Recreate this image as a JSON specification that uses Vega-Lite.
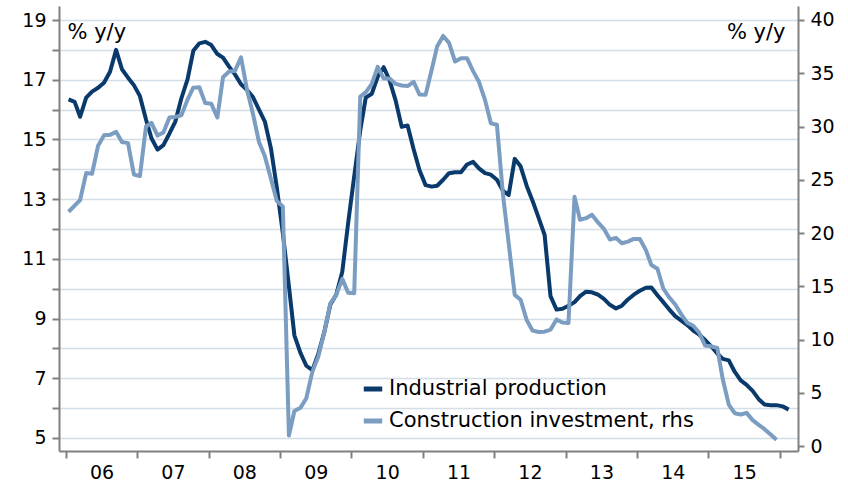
{
  "$schema": "https://vega.github.io/schema/vega-lite/v6.json",
  "width": 739,
  "height": 445,
  "autosize": "none",
  "padding": {"left": 59, "top": 6, "right": 50, "bottom": 32},
  "background": "white",
  "config": {
    "view": {"stroke": null},
    "font": "DejaVu Sans",
    "axis": {
      "domainColor": "#808080", "domainWidth": 2,
      "tickColor": "#808080", "tickWidth": 2,
      "labelColor": "#000000", "labelFontSize": 19,
      "titleColor": "#000000", "titleFontWeight": "normal", "titleFontSize": 21,
      "gridColor": "#d3dee6", "gridWidth": 1.5
    }
  },
  "data": {"values": [
      {"s":"Industrial production","d":"2006-01-15","v":16.34},{"s":"Industrial production","d":"2006-02-15","v":16.26},{"s":"Industrial production","d":"2006-03-15","v":15.76},{"s":"Industrial production","d":"2006-04-15","v":16.4},{"s":"Industrial production","d":"2006-05-15","v":16.6},{"s":"Industrial production","d":"2006-06-15","v":16.73},{"s":"Industrial production","d":"2006-07-15","v":16.9},{"s":"Industrial production","d":"2006-08-15","v":17.27},{"s":"Industrial production","d":"2006-09-15","v":18.0},{"s":"Industrial production","d":"2006-10-15","v":17.35},{"s":"Industrial production","d":"2006-11-15","v":17.07},{"s":"Industrial production","d":"2006-12-15","v":16.82},
      {"s":"Industrial production","d":"2007-01-15","v":16.45},{"s":"Industrial production","d":"2007-02-15","v":15.67},{"s":"Industrial production","d":"2007-03-15","v":15.04},{"s":"Industrial production","d":"2007-04-15","v":14.66},{"s":"Industrial production","d":"2007-05-15","v":14.81},{"s":"Industrial production","d":"2007-06-15","v":15.2},{"s":"Industrial production","d":"2007-07-15","v":15.6},{"s":"Industrial production","d":"2007-08-15","v":16.38},{"s":"Industrial production","d":"2007-09-15","v":17.0},{"s":"Industrial production","d":"2007-10-15","v":17.97},{"s":"Industrial production","d":"2007-11-15","v":18.22},{"s":"Industrial production","d":"2007-12-15","v":18.27},
      {"s":"Industrial production","d":"2008-01-15","v":18.16},{"s":"Industrial production","d":"2008-02-15","v":17.86},{"s":"Industrial production","d":"2008-03-15","v":17.74},{"s":"Industrial production","d":"2008-04-15","v":17.44},{"s":"Industrial production","d":"2008-05-15","v":17.18},{"s":"Industrial production","d":"2008-06-15","v":16.85},{"s":"Industrial production","d":"2008-07-15","v":16.66},{"s":"Industrial production","d":"2008-08-15","v":16.42},{"s":"Industrial production","d":"2008-09-15","v":16.0},{"s":"Industrial production","d":"2008-10-15","v":15.6},{"s":"Industrial production","d":"2008-11-15","v":14.7},{"s":"Industrial production","d":"2008-12-15","v":13.4},
      {"s":"Industrial production","d":"2009-01-15","v":11.86},{"s":"Industrial production","d":"2009-02-15","v":10.08},{"s":"Industrial production","d":"2009-03-15","v":8.44},{"s":"Industrial production","d":"2009-04-15","v":7.85},{"s":"Industrial production","d":"2009-05-15","v":7.42},{"s":"Industrial production","d":"2009-06-15","v":7.27},{"s":"Industrial production","d":"2009-07-15","v":7.81},{"s":"Industrial production","d":"2009-08-15","v":8.55},{"s":"Industrial production","d":"2009-09-15","v":9.47},{"s":"Industrial production","d":"2009-10-15","v":9.8},{"s":"Industrial production","d":"2009-11-15","v":10.57},{"s":"Industrial production","d":"2009-12-15","v":12.2},
      {"s":"Industrial production","d":"2010-01-15","v":13.77},{"s":"Industrial production","d":"2010-02-15","v":15.3},{"s":"Industrial production","d":"2010-03-15","v":16.4},{"s":"Industrial production","d":"2010-04-15","v":16.53},{"s":"Industrial production","d":"2010-05-15","v":17.1},{"s":"Industrial production","d":"2010-06-15","v":17.42},{"s":"Industrial production","d":"2010-07-15","v":16.98},{"s":"Industrial production","d":"2010-08-15","v":16.3},{"s":"Industrial production","d":"2010-09-15","v":15.42},{"s":"Industrial production","d":"2010-10-15","v":15.47},{"s":"Industrial production","d":"2010-11-15","v":14.67},{"s":"Industrial production","d":"2010-12-15","v":13.97},
      {"s":"Industrial production","d":"2011-01-15","v":13.47},{"s":"Industrial production","d":"2011-02-15","v":13.42},{"s":"Industrial production","d":"2011-03-15","v":13.45},{"s":"Industrial production","d":"2011-04-15","v":13.65},{"s":"Industrial production","d":"2011-05-15","v":13.87},{"s":"Industrial production","d":"2011-06-15","v":13.9},{"s":"Industrial production","d":"2011-07-15","v":13.9},{"s":"Industrial production","d":"2011-08-15","v":14.16},{"s":"Industrial production","d":"2011-09-15","v":14.25},{"s":"Industrial production","d":"2011-10-15","v":14.03},{"s":"Industrial production","d":"2011-11-15","v":13.87},{"s":"Industrial production","d":"2011-12-15","v":13.82},
      {"s":"Industrial production","d":"2012-01-15","v":13.65},{"s":"Industrial production","d":"2012-02-15","v":13.28},{"s":"Industrial production","d":"2012-03-15","v":13.14},{"s":"Industrial production","d":"2012-04-15","v":14.35},{"s":"Industrial production","d":"2012-05-15","v":14.1},{"s":"Industrial production","d":"2012-06-15","v":13.45},{"s":"Industrial production","d":"2012-07-15","v":12.95},{"s":"Industrial production","d":"2012-08-15","v":12.38},{"s":"Industrial production","d":"2012-09-15","v":11.8},{"s":"Industrial production","d":"2012-10-15","v":9.75},{"s":"Industrial production","d":"2012-11-15","v":9.3},{"s":"Industrial production","d":"2012-12-15","v":9.33},
      {"s":"Industrial production","d":"2013-01-15","v":9.43},{"s":"Industrial production","d":"2013-02-15","v":9.55},{"s":"Industrial production","d":"2013-03-15","v":9.75},{"s":"Industrial production","d":"2013-04-15","v":9.9},{"s":"Industrial production","d":"2013-05-15","v":9.88},{"s":"Industrial production","d":"2013-06-15","v":9.8},{"s":"Industrial production","d":"2013-07-15","v":9.66},{"s":"Industrial production","d":"2013-08-15","v":9.46},{"s":"Industrial production","d":"2013-09-15","v":9.34},{"s":"Industrial production","d":"2013-10-15","v":9.43},{"s":"Industrial production","d":"2013-11-15","v":9.64},{"s":"Industrial production","d":"2013-12-15","v":9.8},
      {"s":"Industrial production","d":"2014-01-15","v":9.93},{"s":"Industrial production","d":"2014-02-15","v":10.03},{"s":"Industrial production","d":"2014-03-15","v":10.04},{"s":"Industrial production","d":"2014-04-15","v":9.78},{"s":"Industrial production","d":"2014-05-15","v":9.55},{"s":"Industrial production","d":"2014-06-15","v":9.3},{"s":"Industrial production","d":"2014-07-15","v":9.08},{"s":"Industrial production","d":"2014-08-15","v":8.93},{"s":"Industrial production","d":"2014-09-15","v":8.78},{"s":"Industrial production","d":"2014-10-15","v":8.6},{"s":"Industrial production","d":"2014-11-15","v":8.46},{"s":"Industrial production","d":"2014-12-15","v":8.28},
      {"s":"Industrial production","d":"2015-01-15","v":8.07},{"s":"Industrial production","d":"2015-02-15","v":7.83},{"s":"Industrial production","d":"2015-03-15","v":7.65},{"s":"Industrial production","d":"2015-04-15","v":7.6},{"s":"Industrial production","d":"2015-05-15","v":7.22},{"s":"Industrial production","d":"2015-06-15","v":6.93},{"s":"Industrial production","d":"2015-07-15","v":6.78},{"s":"Industrial production","d":"2015-08-15","v":6.58},{"s":"Industrial production","d":"2015-09-15","v":6.3},{"s":"Industrial production","d":"2015-10-15","v":6.12},{"s":"Industrial production","d":"2015-11-15","v":6.1},{"s":"Industrial production","d":"2015-12-15","v":6.1},
      {"s":"Industrial production","d":"2016-01-15","v":6.06},{"s":"Industrial production","d":"2016-02-15","v":5.95},
      {"s":"Construction investment, rhs","d":"2006-01-15","v":22.0},{"s":"Construction investment, rhs","d":"2006-02-15","v":22.57},{"s":"Construction investment, rhs","d":"2006-03-15","v":23.1},{"s":"Construction investment, rhs","d":"2006-04-15","v":25.63},{"s":"Construction investment, rhs","d":"2006-05-15","v":25.57},{"s":"Construction investment, rhs","d":"2006-06-15","v":28.2},{"s":"Construction investment, rhs","d":"2006-07-15","v":29.17},{"s":"Construction investment, rhs","d":"2006-08-15","v":29.22},{"s":"Construction investment, rhs","d":"2006-09-15","v":29.5},{"s":"Construction investment, rhs","d":"2006-10-15","v":28.55},{"s":"Construction investment, rhs","d":"2006-11-15","v":28.44},{"s":"Construction investment, rhs","d":"2006-12-15","v":25.5},
      {"s":"Construction investment, rhs","d":"2007-01-15","v":25.35},{"s":"Construction investment, rhs","d":"2007-02-15","v":30.0},{"s":"Construction investment, rhs","d":"2007-03-15","v":30.35},{"s":"Construction investment, rhs","d":"2007-04-15","v":29.15},{"s":"Construction investment, rhs","d":"2007-05-15","v":29.45},{"s":"Construction investment, rhs","d":"2007-06-15","v":30.85},{"s":"Construction investment, rhs","d":"2007-07-15","v":30.9},{"s":"Construction investment, rhs","d":"2007-08-15","v":31.05},{"s":"Construction investment, rhs","d":"2007-09-15","v":32.5},{"s":"Construction investment, rhs","d":"2007-10-15","v":33.65},{"s":"Construction investment, rhs","d":"2007-11-15","v":33.69},{"s":"Construction investment, rhs","d":"2007-12-15","v":32.2},
      {"s":"Construction investment, rhs","d":"2008-01-15","v":32.13},{"s":"Construction investment, rhs","d":"2008-02-15","v":30.85},{"s":"Construction investment, rhs","d":"2008-03-15","v":34.62},{"s":"Construction investment, rhs","d":"2008-04-15","v":35.16},{"s":"Construction investment, rhs","d":"2008-05-15","v":35.22},{"s":"Construction investment, rhs","d":"2008-06-15","v":36.5},{"s":"Construction investment, rhs","d":"2008-07-15","v":33.5},{"s":"Construction investment, rhs","d":"2008-08-15","v":31.2},{"s":"Construction investment, rhs","d":"2008-09-15","v":28.55},{"s":"Construction investment, rhs","d":"2008-10-15","v":27.2},{"s":"Construction investment, rhs","d":"2008-11-15","v":25.1},{"s":"Construction investment, rhs","d":"2008-12-15","v":23.0},
      {"s":"Construction investment, rhs","d":"2009-01-15","v":22.5},{"s":"Construction investment, rhs","d":"2009-02-15","v":1.0},{"s":"Construction investment, rhs","d":"2009-03-15","v":3.3},{"s":"Construction investment, rhs","d":"2009-04-15","v":3.6},{"s":"Construction investment, rhs","d":"2009-05-15","v":4.5},{"s":"Construction investment, rhs","d":"2009-06-15","v":7.0},{"s":"Construction investment, rhs","d":"2009-07-15","v":8.4},{"s":"Construction investment, rhs","d":"2009-08-15","v":10.7},{"s":"Construction investment, rhs","d":"2009-09-15","v":13.4},{"s":"Construction investment, rhs","d":"2009-10-15","v":14.2},{"s":"Construction investment, rhs","d":"2009-11-15","v":15.7},{"s":"Construction investment, rhs","d":"2009-12-15","v":14.4},
      {"s":"Construction investment, rhs","d":"2010-01-15","v":14.35},{"s":"Construction investment, rhs","d":"2010-02-15","v":32.8},{"s":"Construction investment, rhs","d":"2010-03-15","v":33.2},{"s":"Construction investment, rhs","d":"2010-04-15","v":34.0},{"s":"Construction investment, rhs","d":"2010-05-15","v":35.6},{"s":"Construction investment, rhs","d":"2010-06-15","v":34.5},{"s":"Construction investment, rhs","d":"2010-07-15","v":34.5},{"s":"Construction investment, rhs","d":"2010-08-15","v":34.0},{"s":"Construction investment, rhs","d":"2010-09-15","v":33.85},{"s":"Construction investment, rhs","d":"2010-10-15","v":33.8},{"s":"Construction investment, rhs","d":"2010-11-15","v":34.2},{"s":"Construction investment, rhs","d":"2010-12-15","v":33.0},
      {"s":"Construction investment, rhs","d":"2011-01-15","v":32.97},{"s":"Construction investment, rhs","d":"2011-02-15","v":35.3},{"s":"Construction investment, rhs","d":"2011-03-15","v":37.5},{"s":"Construction investment, rhs","d":"2011-04-15","v":38.5},{"s":"Construction investment, rhs","d":"2011-05-15","v":37.85},{"s":"Construction investment, rhs","d":"2011-06-15","v":36.1},{"s":"Construction investment, rhs","d":"2011-07-15","v":36.4},{"s":"Construction investment, rhs","d":"2011-08-15","v":36.41},{"s":"Construction investment, rhs","d":"2011-09-15","v":35.2},{"s":"Construction investment, rhs","d":"2011-10-15","v":34.2},{"s":"Construction investment, rhs","d":"2011-11-15","v":32.5},{"s":"Construction investment, rhs","d":"2011-12-15","v":30.3},
      {"s":"Construction investment, rhs","d":"2012-01-15","v":30.16},{"s":"Construction investment, rhs","d":"2012-02-15","v":23.6},{"s":"Construction investment, rhs","d":"2012-03-15","v":19.07},{"s":"Construction investment, rhs","d":"2012-04-15","v":14.2},{"s":"Construction investment, rhs","d":"2012-05-15","v":13.75},{"s":"Construction investment, rhs","d":"2012-06-15","v":11.85},{"s":"Construction investment, rhs","d":"2012-07-15","v":10.85},{"s":"Construction investment, rhs","d":"2012-08-15","v":10.72},{"s":"Construction investment, rhs","d":"2012-09-15","v":10.75},{"s":"Construction investment, rhs","d":"2012-10-15","v":10.94},{"s":"Construction investment, rhs","d":"2012-11-15","v":11.9},{"s":"Construction investment, rhs","d":"2012-12-15","v":11.6},
      {"s":"Construction investment, rhs","d":"2013-01-15","v":11.57},{"s":"Construction investment, rhs","d":"2013-02-15","v":23.4},{"s":"Construction investment, rhs","d":"2013-03-15","v":21.25},{"s":"Construction investment, rhs","d":"2013-04-15","v":21.4},{"s":"Construction investment, rhs","d":"2013-05-15","v":21.72},{"s":"Construction investment, rhs","d":"2013-06-15","v":21.0},{"s":"Construction investment, rhs","d":"2013-07-15","v":20.4},{"s":"Construction investment, rhs","d":"2013-08-15","v":19.4},{"s":"Construction investment, rhs","d":"2013-09-15","v":19.55},{"s":"Construction investment, rhs","d":"2013-10-15","v":19.05},{"s":"Construction investment, rhs","d":"2013-11-15","v":19.2},{"s":"Construction investment, rhs","d":"2013-12-15","v":19.45},
      {"s":"Construction investment, rhs","d":"2014-01-15","v":19.45},{"s":"Construction investment, rhs","d":"2014-02-15","v":18.4},{"s":"Construction investment, rhs","d":"2014-03-15","v":17.0},{"s":"Construction investment, rhs","d":"2014-04-15","v":16.65},{"s":"Construction investment, rhs","d":"2014-05-15","v":14.8},{"s":"Construction investment, rhs","d":"2014-06-15","v":13.95},{"s":"Construction investment, rhs","d":"2014-07-15","v":13.3},{"s":"Construction investment, rhs","d":"2014-08-15","v":12.37},{"s":"Construction investment, rhs","d":"2014-09-15","v":11.57},{"s":"Construction investment, rhs","d":"2014-10-15","v":11.3},{"s":"Construction investment, rhs","d":"2014-11-15","v":10.65},{"s":"Construction investment, rhs","d":"2014-12-15","v":9.44},
      {"s":"Construction investment, rhs","d":"2015-01-15","v":9.37},{"s":"Construction investment, rhs","d":"2015-02-15","v":9.22},{"s":"Construction investment, rhs","d":"2015-03-15","v":6.3},{"s":"Construction investment, rhs","d":"2015-04-15","v":3.9},{"s":"Construction investment, rhs","d":"2015-05-15","v":3.1},{"s":"Construction investment, rhs","d":"2015-06-15","v":2.98},{"s":"Construction investment, rhs","d":"2015-07-15","v":3.13},{"s":"Construction investment, rhs","d":"2015-08-15","v":2.45},{"s":"Construction investment, rhs","d":"2015-09-15","v":2.0},{"s":"Construction investment, rhs","d":"2015-10-15","v":1.6},{"s":"Construction investment, rhs","d":"2015-11-15","v":1.1},{"s":"Construction investment, rhs","d":"2015-12-15","v":0.6}
  ]},
  "encoding": {
    "x": {
      "field": "d", "type": "temporal",
      "scale": {"type": "utc", "domain": [{"year": 2005, "month": 11, "date": 27, "utc": true}, {"year": 2016, "month": 4, "date": 3, "utc": true}]},
      "axis": {
        "title": null, "grid": false, "tickSize": 7, "labelPadding": 5,
        "values": [
          {"year": 2006, "month": 1, "date": 1, "utc": true}, {"year": 2007, "month": 1, "date": 1, "utc": true},
          {"year": 2008, "month": 1, "date": 1, "utc": true}, {"year": 2009, "month": 1, "date": 1, "utc": true},
          {"year": 2010, "month": 1, "date": 1, "utc": true}, {"year": 2011, "month": 1, "date": 1, "utc": true},
          {"year": 2012, "month": 1, "date": 1, "utc": true}, {"year": 2013, "month": 1, "date": 1, "utc": true},
          {"year": 2014, "month": 1, "date": 1, "utc": true}, {"year": 2015, "month": 1, "date": 1, "utc": true},
          {"year": 2016, "month": 1, "date": 1, "utc": true}
        ],
        "labelExpr": "utcyear(datum.value) > 2015 ? '' : utcFormat(datum.value, '%y')",
        "labelOffset": 35.7, "labelFlush": false, "labelOverlap": false, "labelBound": false
      }
    },
    "color": {
      "field": "s", "type": "nominal",
      "scale": {"domain": ["Industrial production", "Construction investment, rhs"], "range": ["#0a3a6b", "#7b9dc1"]},
      "legend": {
        "orient": "none", "legendX": 302, "legendY": 371, "title": null,
        "symbolType": "stroke", "symbolStrokeWidth": 5, "symbolSize": 340,
        "labelFontSize": 21, "labelOffset": 4, "labelLimit": 0, "rowPadding": 10, "padding": 0, "labelColor": "#000000"
      }
    }
  },
  "layer": [
    {
      "transform": [{"filter": {"field": "s", "equal": "Industrial production"}}],
      "mark": {"type": "line", "strokeWidth": 4, "strokeJoin": "round"},
      "encoding": {
        "y": {
          "field": "v", "type": "quantitative",
          "scale": {"domain": [4.564, 19.47], "zero": false, "nice": false},
          "axis": {
            "orient": "left", "values": [5,6,7,8,9,10,11,12,13,14,15,16,17,18,19],
            "labelExpr": "datum.value % 2 == 1 ? datum.label : ''",
            "grid": true, "tickSize": 7, "labelPadding": 6, "labelOverlap": false,
            "title": "% y/y", "titleAngle": 0, "titleAlign": "left", "titleBaseline": "alphabetic",
            "titleX": 8, "titleY": 32
          }
        }
      }
    },
    {
      "transform": [{"filter": {"field": "s", "equal": "Construction investment, rhs"}}],
      "mark": {"type": "line", "strokeWidth": 4, "strokeJoin": "round"},
      "encoding": {
        "y": {
          "field": "v", "type": "quantitative",
          "scale": {"domain": [-0.45, 41.31], "zero": false, "nice": false},
          "axis": {
            "orient": "right", "values": [0,5,10,15,20,25,30,35,40],
            "grid": false, "tickSize": 6, "labelPadding": 6,
            "title": "% y/y", "titleAngle": 0, "titleAlign": "right", "titleBaseline": "alphabetic",
            "titleX": -13, "titleY": 32
          }
        }
      }
    }
  ],
  "resolve": {"scale": {"y": "independent"}}
}
